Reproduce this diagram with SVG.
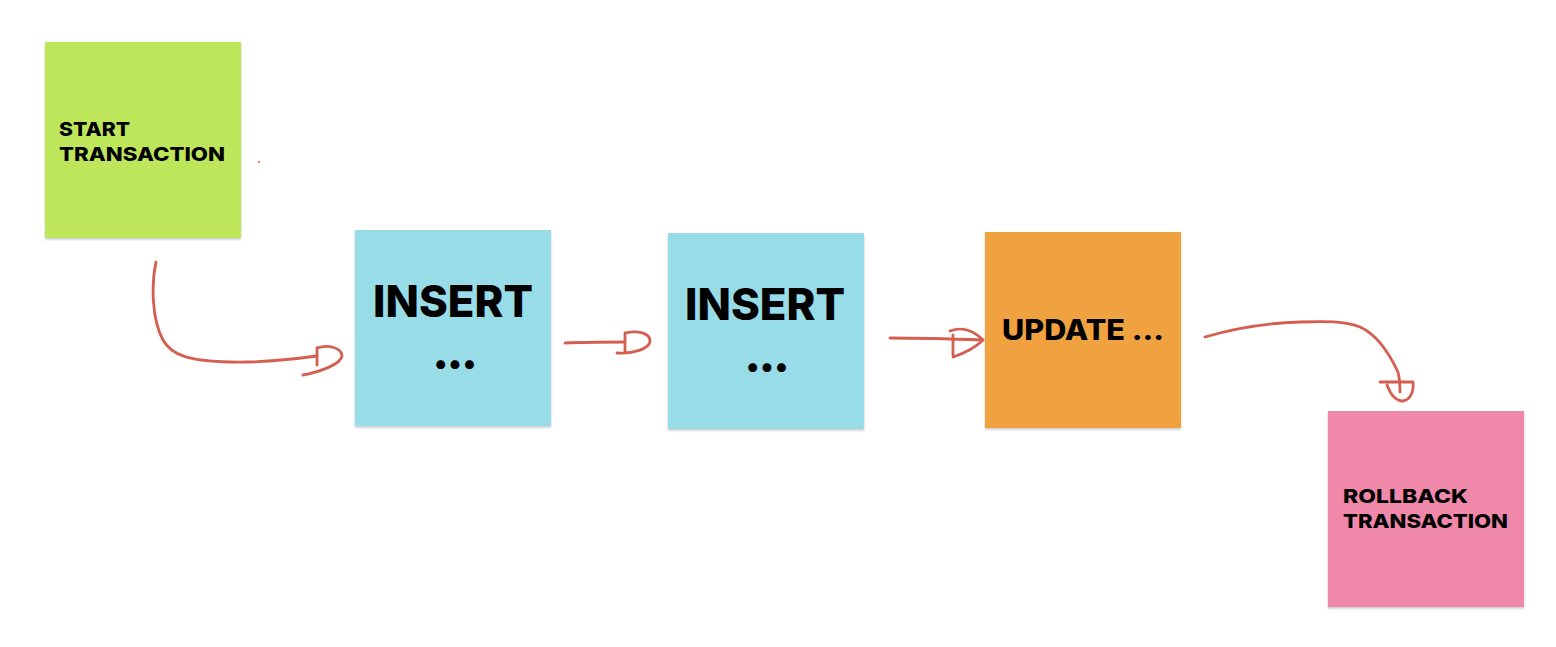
<svg xmlns="http://www.w3.org/2000/svg" width="1556" height="647" viewBox="0 0 1556 647">
<defs>
<filter id="sh" x="-5%" y="-5%" width="110%" height="110%">
<feDropShadow dx="0" dy="1.5" stdDeviation="1.2" flood-color="#000" flood-opacity="0.22"/>
</filter>
<style>
.n{filter:url(#sh)}
.t{font-family:"Inter","Liberation Sans",sans-serif;font-weight:800;fill:#000}
.s{font-size:19px}
.b{font-size:44px}
.d{font-size:44px;font-weight:900;letter-spacing:-2px}
.m{font-size:28px}
.c{fill:none;stroke:#D45E50;stroke-width:2.8;stroke-linecap:round;stroke-linejoin:round}
</style>
</defs>
<rect width="1556" height="647" fill="#fff"/>
<g id="start">
<rect class="n" x="45" y="42" width="196" height="196" fill="#BDE65A"/>
<text class="t s" x="59" y="136" textLength="71" lengthAdjust="spacingAndGlyphs">START</text>
<text class="t s" x="59" y="161" textLength="166" lengthAdjust="spacingAndGlyphs">TRANSACTION</text>
</g>
<g id="insert1">
<rect class="n" x="355" y="230" width="196" height="196" fill="#98DCE8"/>
<text class="t b" x="453" y="317" text-anchor="middle" textLength="160" lengthAdjust="spacingAndGlyphs">INSERT</text>
<text class="t d" x="454" y="369" text-anchor="middle">...</text>
</g>
<g id="insert2">
<rect class="n" x="668" y="233" width="196" height="196" fill="#98DCE8"/>
<text class="t b" x="765" y="320" text-anchor="middle" textLength="160" lengthAdjust="spacingAndGlyphs">INSERT</text>
<text class="t d" x="766" y="372" text-anchor="middle">...</text>
</g>
<g id="update">
<rect class="n" x="985" y="232" width="196" height="196" fill="#F0A240"/>
<text class="t m" x="1002" y="340" textLength="162" lengthAdjust="spacingAndGlyphs">UPDATE ...</text>
</g>
<g id="rollback">
<rect class="n" x="1328" y="411" width="196" height="196" fill="#F088A9"/>
<text class="t s" x="1343" y="503" textLength="125" lengthAdjust="spacingAndGlyphs">ROLLBACK</text>
<text class="t s" x="1343" y="528" textLength="165" lengthAdjust="spacingAndGlyphs">TRANSACTION</text>
</g>
<g id="connectors">
<path class="c" d="M156,262 C151,285 152,320 163,340 C172,356 190,361 230,362 C265,363 295,359 317,356"/>
<path class="c" d="M317,348 L317,365 M317,348 C328,344 342,348 342,356 C341,364 320,372 303,375"/>
<path class="c" d="M565,343 C585,342 605,342 625,342"/>
<path class="c" d="M625,333 L625,353 M625,333 C638,330 650,333 650,341 C650,349 632,354 617,353"/>
<path class="c" d="M890,338 C920,338 955,339 983,340"/>
<path class="c" d="M953,335 L953,355 M950,331 C960,327 972,329 983,340 C975,348 962,354 953,357"/>
<path class="c" d="M1205,337 C1235,328 1265,323 1300,322 C1325,321 1345,321 1360,327 C1378,335 1390,355 1398,372 C1400,380 1400,386 1400,392"/>
<path class="c" d="M1380,382 L1413,382 C1414,392 1410,400 1403,401 C1395,401 1390,393 1387,385"/>
<circle cx="259" cy="162" r="1.3" fill="#E88A8A"/>
</g>
</svg>
